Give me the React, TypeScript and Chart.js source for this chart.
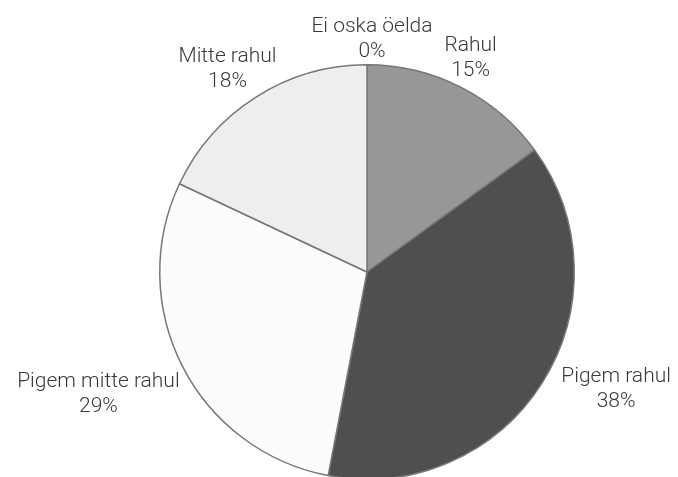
import React, { useEffect, useRef } from "react";
import { Chart, registerables } from "chart.js";

Chart.register(...registerables);

const categories = ["Rahul", "Pigem rahul", "Pigem mitte rahul", "Mitte rahul", "Ei oska öelda"];
const values = [15, 38, 29, 18, 0];
const sliceColors = ["#979797", "#4f4f4f", "#fcfcfc", "#eeeeee", "#dddddd"];
// label block centre, in units of pie radius relative to the pie centre
const labelOffsets: [number, number][] = [
  [0.5, -1.031],
  [1.202, 0.567],
  [-1.296, 0.591],
  [-0.673, -0.978],
  [0.024, -1.125],
];

const FONT = "300 21px Roboto, 'DejaVu Sans', sans-serif";

const labelPlugin = {
  id: "pieLabels",
  afterDatasetsDraw(chart: any) {
    const ctx = chart.ctx;
    const meta = chart.getDatasetMeta(0);
    ctx.save();
    ctx.font = FONT;
    ctx.fillStyle = "#3a3a3a";
    ctx.textAlign = "center";
    ctx.textBaseline = "middle";
    meta.data.forEach((arc: any, i: number) => {
      const r = arc.outerRadius;
      const [ox, oy] = labelOffsets[i];
      const cx = arc.x + ox * r;
      const cy = arc.y + oy * r;
      ctx.fillText(categories[i], cx, cy - 12.5);
      ctx.fillText(values[i] + "%", cx, cy + 12.5);
    });
    ctx.restore();
  },
};

export default function App() {
  const ref = useRef<HTMLCanvasElement>(null);
  useEffect(() => {
    if (!ref.current) return;
    const chart = new Chart(ref.current, {
      type: "pie",
      data: {
        labels: categories,
        datasets: [
          {
            data: values,
            backgroundColor: sliceColors,
            borderColor: "#777777",
            borderWidth: 1.5,
          },
        ],
      },
      options: {
        responsive: false,
        animation: false,
        layout: { padding: { left: 56, right: 0, top: 64, bottom: 64 } },
        plugins: { legend: { display: false }, tooltip: { enabled: false } },
      },
      plugins: [labelPlugin],
    });
    return () => chart.destroy();
  }, []);
  return (
    <div style={{ position: "absolute", left: 0, top: 0, width: 678, height: 544, background: "#fff" }}>
      <canvas ref={ref} width={678} height={544} style={{ width: 678, height: 544 }} />
    </div>
  );
}
